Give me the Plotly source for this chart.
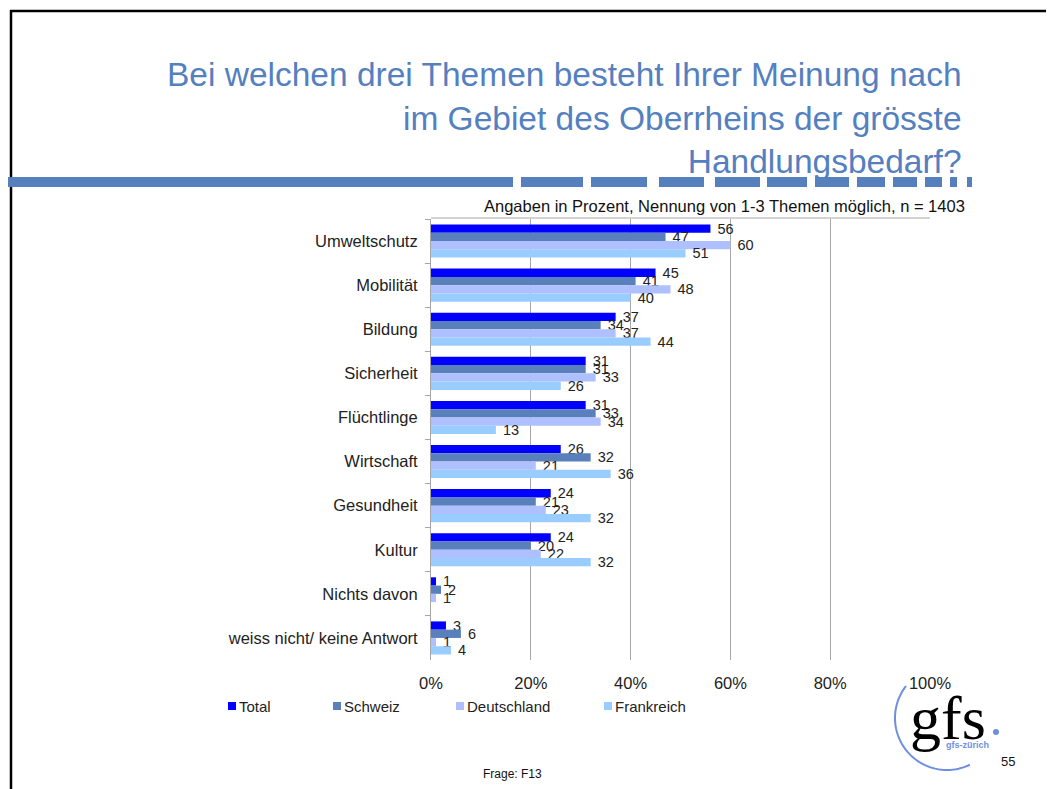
import numpy as np
import plotly.graph_objects as go

W, H = 1054, 789
OX, OY = 8, 8  # page offset of the plot div

categories = ["Umweltschutz", "Mobilität", "Bildung", "Sicherheit", "Flüchtlinge",
              "Wirtschaft", "Gesundheit", "Kultur", "Nichts davon",
              "weiss nicht/ keine Antwort"]
total = [56, 45, 37, 31, 31, 26, 24, 24, 1, 3]
schweiz = [47, 41, 34, 31, 33, 32, 21, 20, 2, 6]
deutschland = [60, 48, 37, 33, 34, 21, 23, 22, 1, 1]
frankreich = [51, 40, 44, 26, 13, 36, 32, 32, 0, 4]

series = [("Total", total, "#0000FF"),
          ("Schweiz", schweiz, "#5A80BC"),
          ("Deutschland", deutschland, "#AEC0FF"),
          ("Frankreich", frankreich, "#99CCFF")]
legend_x = [228, 333, 456, 604]

x_ticks = [0, 20, 40, 60, 80, 100]
x_ticklabels = ["0%", "20%", "40%", "60%", "80%", "100%"]


def px(x):
    return (x - OX) / W


def py(y):
    return 1 - (y - OY) / H


fig = go.Figure()
for name, vals, col in series:
    fig.add_trace(go.Bar(
        y=categories, x=vals, name=name, orientation="h",
        marker=dict(color=col, line=dict(width=0)),
        text=["\u00a0" + str(v) if v else "" for v in vals],
        textposition="outside", constraintext="none", cliponaxis=False,
        textfont=dict(size=14.5, color="#222222"),
        showlegend=False,
    ))

fig.update_layout(
    width=W, height=H,
    margin=dict(l=0, r=0, t=0, b=0),
    paper_bgcolor="white", plot_bgcolor="white",
    font=dict(family="Liberation Sans, Arial, sans-serif", color="#222222"),
    barmode="group", bargap=0.25, bargroupgap=0,
    xaxis=dict(domain=[px(431), px(930)], range=[0, 100], tickvals=x_ticks,
               ticktext=x_ticklabels, showgrid=True, gridcolor="#A6A6A6",
               gridwidth=1, zeroline=False, showline=False, ticks="",
               tickfont=dict(size=16.5), ticklabelstandoff=11, automargin=False),
    yaxis=dict(domain=[py(660), py(219)], autorange="reversed", type="category",
               showline=True, linecolor="#A6A6A6", linewidth=1,
               ticks="outside", tickson="boundaries", ticklen=5, tickcolor="#A6A6A6",
               tickfont=dict(size=16.5), ticklabelstandoff=9, showgrid=False,
               automargin=False),
)

shapes = []
ann = []
# slide frame
shapes.append(dict(type="line", xref="paper", yref="paper", x0=px(10), x1=1.02,
                   y0=py(11), y1=py(11), line=dict(color="black", width=2.5)))
shapes.append(dict(type="line", xref="paper", yref="paper", x0=px(11), x1=px(11),
                   y0=py(10), y1=-0.02, line=dict(color="black", width=2.5)))
# top border of plot area
shapes.append(dict(type="line", xref="paper", yref="paper", x0=px(431), x1=px(930),
                   y0=py(218), y1=py(218), line=dict(color="#A6A6A6", width=1)))
# dashed title rule
dash_segments = [(6, 513), (521, 583), (591, 647), (659, 704), (715, 760), (767, 807),
                 (815, 849), (857, 885), (893, 917), (925, 942), (950, 957), (967, 972)]
for a, b in dash_segments:
    shapes.append(dict(type="rect", xref="paper", yref="paper", x0=px(a), x1=px(b),
                       y0=py(187), y1=py(177), fillcolor="#5580BD", line=dict(width=0)))

# legend
for (name, vals, col), lx in zip(series, legend_x):
    shapes.append(dict(type="rect", xref="paper", yref="paper", x0=px(lx), x1=px(lx + 8),
                       y0=py(710), y1=py(702), fillcolor=col, line=dict(width=0)))
    ann.append(dict(text=name, xref="paper", yref="paper", x=px(lx + 9), y=py(706),
                    xanchor="left", yanchor="middle", showarrow=False,
                    font=dict(size=15, color="#222222")))

# logo arc
cx, cy, r = 947, 718, 52
ang = np.radians(np.linspace(142, 296, 60))
pts = [(px(cx + r * np.cos(t)), py(cy - r * np.sin(t))) for t in ang]
path = "M" + " L".join(f"{a:.5f},{b:.5f}" for a, b in pts)
shapes.append(dict(type="path", xref="paper", yref="paper", path=path,
                   line=dict(color="#6E8FDF", width=2)))
shapes.append(dict(type="circle", xref="paper", yref="paper", x0=px(993), x1=px(999),
                   y0=py(735), y1=py(729), fillcolor="#6E8FDF", line=dict(width=0)))
fig.update_layout(shapes=shapes)

ann.append(dict(text="Bei welchen drei Themen besteht Ihrer Meinung nach<br>"
                     "im Gebiet des Oberrheins der grösste<br>Handlungsbedarf?",
                xref="paper", yref="paper", x=px(964), y=py(54), xanchor="right",
                yanchor="top", align="right", showarrow=False,
                font=dict(size=33.5, color="#5580C0")))
ann.append(dict(text="Angaben in Prozent, Nennung von 1-3 Themen möglich, n = 1403",
                xref="paper", yref="paper", x=px(967), y=py(206), xanchor="right",
                yanchor="middle", showarrow=False, font=dict(size=16.5, color="#111111")))
ann.append(dict(text="Frage: F13", xref="paper", yref="paper", x=px(512), y=py(774),
                xanchor="center", yanchor="middle", showarrow=False,
                font=dict(size=12, color="#111111")))
ann.append(dict(text="55", xref="paper", yref="paper", x=px(1008), y=py(761),
                xanchor="center", yanchor="middle", showarrow=False,
                font=dict(size=13, color="#111111")))
ann.append(dict(text="gfs", xref="paper", yref="paper", x=px(948), y=py(718),
                xanchor="center", yanchor="middle", showarrow=False,
                font=dict(size=62, color="black", family="Liberation Serif, Times New Roman, serif")))
ann.append(dict(text="<b>gfs-zürich</b>", xref="paper", yref="paper", x=px(967), y=py(745),
                xanchor="center", yanchor="middle", showarrow=False,
                font=dict(size=9, color="#6E8FDF")))
fig.update_layout(annotations=ann)

fig.write_html("out.html")
